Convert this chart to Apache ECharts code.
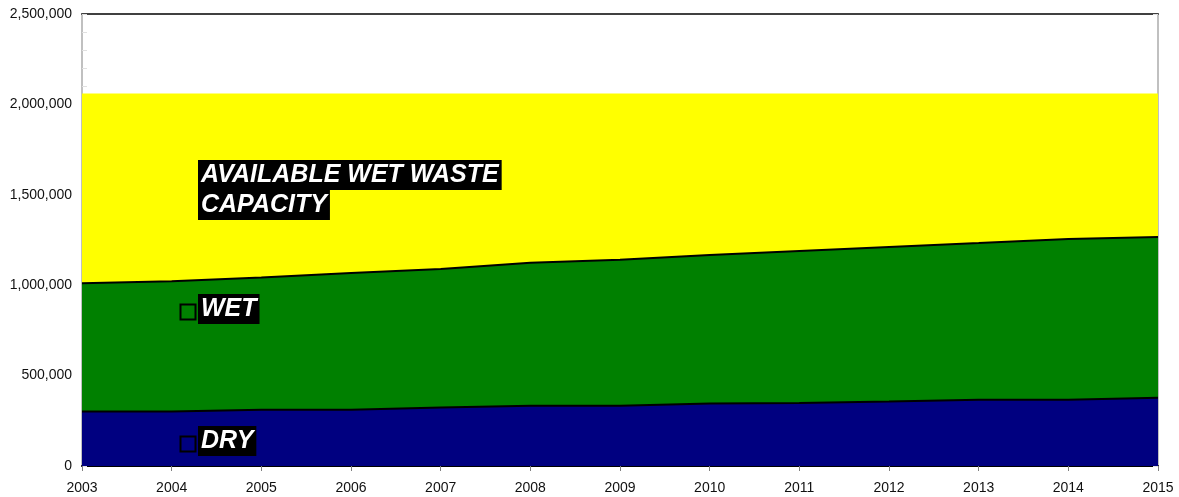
<!DOCTYPE html>
<html>
<head>
<meta charset="utf-8">
<script src="https://cdn.jsdelivr.net/npm/echarts@6/dist/echarts.min.js"></script>
<style>
html,body{margin:0;padding:0;background:#fff;}
#chart{width:1179px;height:497px;}
</style>
</head>
<body>
<div id="chart"></div>
<script>
var years = ['2003','2004','2005','2006','2007','2008','2009','2010','2011','2012','2013','2014','2015'];
var dryValues = [302000, 302000, 311000, 311000, 324000, 333000, 333000, 346000, 348000, 357000, 367000, 367000, 378000];
var wetValues = [709000, 720000, 732000, 756000, 765000, 791000, 808000, 821000, 841000, 854000, 866000, 889000, 889000];
var availableValues = [1049000, 1038000, 1017000, 993000, 971000, 936000, 919000, 893000, 871000, 849000, 827000, 804000, 793000];
var yMin = 0, yMax = 2500000, yInterval = 500000;

var chart = echarts.init(document.getElementById('chart'), null, {renderer:'canvas'});
var FONT = 'Liberation Sans, Arial, sans-serif';
var labelFont = 'italic bold 25px "Liberation Sans", Arial, sans-serif';

function fmt(v){ return String(v).replace(/\B(?=(\d{3})+(?!\d))/g, ','); }

function tag(x, y, text){
  return {
    type:'text', left:x, top:y, z:100,
    style:{
      text:text, font:labelFont, fill:'#ffffff',
      backgroundColor:'#000000', padding:[2,3,1,3], lineHeight:27
    }
  };
}
function box(x, y){
  return {
    type:'rect', left:x, top:y, z:100,
    shape:{x:0,y:0,width:15,height:15},
    style:{fill:'none', stroke:'#000000', lineWidth:2}
  };
}

chart.setOption({
  animation:false,
  backgroundColor:'#ffffff',
  grid:{left:82, right:21, top:14, bottom:31, containLabel:false},
  xAxis:[{
    type:'category', data:years, boundaryGap:false,
    axisLine:{show:true, lineStyle:{color:'#000000', width:2}},
    axisTick:{show:true, alignWithLabel:true, length:5, lineStyle:{color:'#808080'}},
    axisLabel:{color:'#111111', fontSize:14, fontFamily:FONT, margin:15},
    splitLine:{show:false}
  },{
    type:'category', data:years, boundaryGap:false, position:'top',
    axisLine:{show:true, onZero:false, lineStyle:{color:'#404040', width:2}},
    axisTick:{show:false}, axisLabel:{show:false}, splitLine:{show:false}
  }],
  yAxis:[{
    type:'value', min:yMin, max:yMax, interval:yInterval,
    axisLine:{show:true, lineStyle:{color:'#c0c0c0', width:2}},
    axisTick:{show:true, inside:true, length:5, lineStyle:{color:'#e0e0e0'}},
    minorTick:{show:true, splitNumber:5, length:5, lineStyle:{color:'#e0e0e0'}},
    axisLabel:{color:'#111111', fontSize:14, fontFamily:FONT, margin:10, formatter:fmt},
    splitLine:{show:false}
  },{
    type:'value', min:yMin, max:yMax, interval:yInterval, position:'right',
    axisLine:{show:true, lineStyle:{color:'#c0c0c0', width:2}},
    axisTick:{show:true, inside:true, length:5, lineStyle:{color:'#e0e0e0'}},
    axisLabel:{show:false}, splitLine:{show:false}
  }],
  series:[{
    name:'DRY', type:'line', stack:'total', data:dryValues,
    symbol:'none', lineStyle:{color:'#000000', width:2},
    areaStyle:{color:'#000080', opacity:1}, itemStyle:{color:'#000080'}
  },{
    name:'WET', type:'line', stack:'total', data:wetValues,
    symbol:'none', lineStyle:{color:'#000000', width:2},
    areaStyle:{color:'#008000', opacity:1}, itemStyle:{color:'#008000'}
  },{
    name:'AVAILABLE WET WASTE CAPACITY', type:'line', stack:'total', data:availableValues,
    symbol:'none', lineStyle:{width:0, color:'#ffff00'},
    areaStyle:{color:'#ffff00', opacity:1}, itemStyle:{color:'#ffff00'}
  }],
  graphic:[
    tag(198, 160, 'AVAILABLE WET WASTE'),
    tag(198, 190, 'CAPACITY'),
    box(178, 302), tag(198, 294, 'WET'),
    box(178, 434), tag(198, 426, 'DRY')
  ]
});
</script>
</body>
</html>
